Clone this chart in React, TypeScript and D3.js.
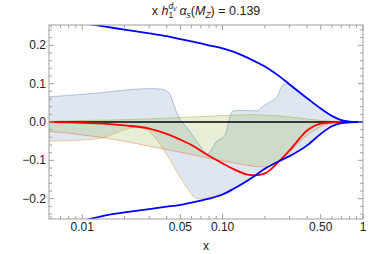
import React from 'react';
import * as d3 from 'd3';

// x grid shared by the smooth curves
const xGrid = [0.0058, 0.008, 0.01, 0.015, 0.02, 0.03, 0.04, 0.05, 0.06, 0.07, 0.08, 0.1, 0.12, 0.15, 0.17, 0.2, 0.25, 0.3, 0.4, 0.5, 0.6, 0.7, 0.8, 0.9, 1];

// Soffer bound (blue)
const sofferUp = [0.272, 0.264, 0.258, 0.248, 0.241, 0.231, 0.224, 0.216, 0.21, 0.205, 0.2, 0.192, 0.183, 0.168, 0.158, 0.145, 0.121, 0.098, 0.062, 0.035, 0.016, 0.005, 0.001, 0, 0];
const sofferLo = [-0.275, -0.266, -0.258, -0.243, -0.236, -0.227, -0.221, -0.216, -0.21, -0.205, -0.2, -0.189, -0.174, -0.153, -0.14, -0.122, -0.103, -0.089, -0.061, -0.031, -0.011, -0.003, -0.001, 0, 0];

// central fit (red)
const central = [0, -0.001, -0.002, -0.005, -0.009, -0.017, -0.031, -0.046, -0.06, -0.075, -0.088, -0.108, -0.123, -0.137, -0.139, -0.134, -0.104, -0.074, -0.022, -0.004, -0.001, 0, 0, 0, 0];

// green band
const greenUp = [0.002, 0.003, 0.004, 0.005, 0.006, 0.008, 0.01, 0.012, 0.013, 0.014, 0.015, 0.017, 0.018, 0.019, 0.019, 0.018, 0.016, 0.013, 0.008, 0.004, 0.002, 0.0005, 0, 0, 0];
const greenLo = [-0.025, -0.029, -0.034, -0.042, -0.05, -0.063, -0.072, -0.079, -0.085, -0.09, -0.095, -0.101, -0.107, -0.113, -0.116, -0.117, -0.104, -0.078, -0.035, -0.012, -0.003, -0.0005, 0, 0, 0];

// blue band, upper edge
const blueUpX = [0.0058, 0.01, 0.015, 0.02, 0.03, 0.0358, 0.04, 0.0422, 0.0443, 0.0465, 0.05, 0.054, 0.06, 0.0668, 0.0725, 0.0787, 0.084, 0.0897, 0.0958, 0.104, 0.1129, 0.1186, 0.14, 0.1758, 0.1908, 0.2175, 0.248, 0.2648, 0.2873, 0.3, 0.4, 0.5, 0.6, 0.7, 0.8, 0.9, 1];
const blueUpY = [0.066, 0.072, 0.078, 0.083, 0.087, 0.086, 0.081, 0.072, 0.052, 0.03, 0.006, -0.009, -0.03, -0.055, -0.074, -0.083, -0.07, -0.052, -0.045, -0.035, 0.015, 0.029, 0.03, 0.029, 0.039, 0.052, 0.07, 0.094, 0.1, 0.098, 0.062, 0.035, 0.016, 0.005, 0.001, 0, 0];

// blue band, lower edge
const blueLoX = [0.0058, 0.01, 0.0138, 0.0191, 0.0238, 0.028, 0.033, 0.0389, 0.0443, 0.05, 0.0567, 0.0615, 0.068, 0.08, 0.1, 0.12, 0.15, 0.17, 0.2, 0.25, 0.3, 0.4, 0.5, 0.6, 0.7, 0.8, 0.9, 1];
const blueLoY = [-0.05, -0.047, -0.042, -0.023, -0.014, -0.017, -0.041, -0.078, -0.112, -0.145, -0.175, -0.193, -0.201, -0.197, -0.186, -0.172, -0.151, -0.139, -0.121, -0.102, -0.088, -0.06, -0.03, -0.011, -0.003, -0.001, 0, 0];

// ticks
const yMajor = [-0.2, -0.1, 0, 0.1, 0.2];
const yLabels = ['\u22120.2', '\u22120.1', '0.0', '0.1', '0.2'];
const yMinor = [-0.24, -0.22, -0.18, -0.16, -0.14, -0.12, -0.08, -0.06, -0.04, -0.02, 0.02, 0.04, 0.06, 0.08, 0.12, 0.14, 0.16, 0.18, 0.22, 0.24];
const xMajor = [0.01, 0.05, 0.1, 0.5, 1];
const xLabels = ['0.01', '0.05', '0.10', '0.50', '1'];
const xMinor = [0.006, 0.007, 0.008, 0.009, 0.02, 0.03, 0.04, 0.06, 0.07, 0.08, 0.09, 0.2, 0.3, 0.4, 0.6, 0.7, 0.8, 0.9];

const W = 382;
const H = 254;
const L = 49, R = 363, T = 25, B = 219;
const FONT = '"Liberation Sans", Arial, sans-serif';
const frameColor = '#a0a0a0';

export default function App() {
  const x = d3.scaleLog().domain([0.0058, 1]).range([L, R]);
  const y = d3.scaleLinear().domain([-0.253, 0.253]).range([B, T]);

  const line = d3.line<[number, number]>()
    .x(d => x(d[0]))
    .y(d => y(d[1]))
    .curve(d3.curveMonotoneX);

  const pts = (xs: number[], ys: number[]) => xs.map((v, i) => [v, ys[i]] as [number, number]);

  // closed polygon between two edges
  const band = (up: [number, number][], lo: [number, number][]) => {
    const a = line(up) || '';
    const b = line(lo.slice().reverse()) || '';
    return a + 'L' + b.slice(1) + 'Z';
  };

  const bUp = pts(blueUpX, blueUpY);
  const bLo = pts(blueLoX, blueLoY);
  const gUp = pts(xGrid, greenUp);
  const gLo = pts(xGrid, greenLo);

  return (
    <svg width={W} height={H} style={{ position: 'absolute', left: 0, top: 0 }} fontFamily={FONT}>
      <defs>
        <clipPath id="plot">
          <rect x={L} y={T} width={R - L} height={B - T} />
        </clipPath>
      </defs>
      <rect x={0} y={0} width={W} height={H} fill="#fff" />

      <g clipPath="url(#plot)">
        <path d={band(bUp, bLo)} fill="#5E81B5" fillOpacity={0.2} stroke="none" />
        <path d={band(gUp, gLo)} fill="#8FB032" fillOpacity={0.2} stroke="none" />
        <path d={line(bUp) || ''} fill="none" stroke="#5E81B5" strokeOpacity={0.45} strokeWidth={1} />
        <path d={line(bLo) || ''} fill="none" stroke="#E19C24" strokeOpacity={0.45} strokeWidth={1} />
        <path d={line(gUp) || ''} fill="none" stroke="#8FB032" strokeOpacity={0.45} strokeWidth={1} />
        <path d={line(gLo) || ''} fill="none" stroke="#EB6235" strokeOpacity={0.45} strokeWidth={1} />
        <line x1={L} x2={R} y1={y(0)} y2={y(0)} stroke="#000" strokeWidth={1.6} />
        <path d={line(pts(xGrid, central)) || ''} fill="none" stroke="#FF0000" strokeWidth={1.8} />
        <path d={line(pts(xGrid, sofferUp)) || ''} fill="none" stroke="#0000FF" strokeWidth={1.8} />
        <path d={line(pts(xGrid, sofferLo)) || ''} fill="none" stroke="#0000FF" strokeWidth={1.8} />
      </g>

      {/* frame */}
      <rect x={L} y={T} width={R - L} height={B - T} fill="none" stroke={frameColor} strokeWidth={1} />

      {/* y ticks left & right */}
      {yMajor.map((v, i) => (
        <g key={'ym' + i}>
          <line x1={L} x2={L + 5} y1={y(v)} y2={y(v)} stroke={frameColor} />
          <line x1={R} x2={R - 5} y1={y(v)} y2={y(v)} stroke={frameColor} />
          <text x={46} y={y(v) + 4} textAnchor="end" fontSize={12} fill="#222">{yLabels[i]}</text>
        </g>
      ))}
      {yMinor.map((v, i) => (
        <g key={'yn' + i}>
          <line x1={L} x2={L + 3} y1={y(v)} y2={y(v)} stroke={frameColor} />
          <line x1={R} x2={R - 3} y1={y(v)} y2={y(v)} stroke={frameColor} />
        </g>
      ))}

      {/* x ticks bottom & top */}
      {xMajor.map((v, i) => (
        <g key={'xm' + i}>
          <line x1={x(v)} x2={x(v)} y1={B} y2={B - 5} stroke={frameColor} />
          <line x1={x(v)} x2={x(v)} y1={T} y2={T + 5} stroke={frameColor} />
          <text x={x(v)} y={231} textAnchor="middle" fontSize={12} fill="#222">{xLabels[i]}</text>
        </g>
      ))}
      {xMinor.map((v, i) => (
        <g key={'xn' + i}>
          <line x1={x(v)} x2={x(v)} y1={B} y2={B - 3} stroke={frameColor} />
          <line x1={x(v)} x2={x(v)} y1={T} y2={T + 3} stroke={frameColor} />
        </g>
      ))}

      {/* axis label */}
      <text x={(L + R) / 2} y={250} textAnchor="middle" fontSize={12} fill="#222">x</text>

      {/* title */}
      <text x={(L + R) / 2} y={15} textAnchor="middle" fontSize={12.5} fill="#222">
        <tspan>x </tspan>
        <tspan fontStyle="italic">h</tspan>
        <tspan fontSize={8.5} dy={3}>1</tspan>
        <tspan fontSize={8.5} fontStyle="italic" dx={-4.7} dy={-9}>d</tspan>
        <tspan fontSize={6.5} fontStyle="italic" dy={2}>v</tspan>
        <tspan dx={3} dy={4} fontStyle="italic">α</tspan>
        <tspan fontSize={8.5} fontStyle="italic" dy={3}>s</tspan>
        <tspan dy={-3}>(</tspan>
        <tspan fontStyle="italic">M</tspan>
        <tspan fontSize={8.5} fontStyle="italic" dy={3}>Z</tspan>
        <tspan dy={-3}>) = 0.139</tspan>
      </text>
    </svg>
  );
}
